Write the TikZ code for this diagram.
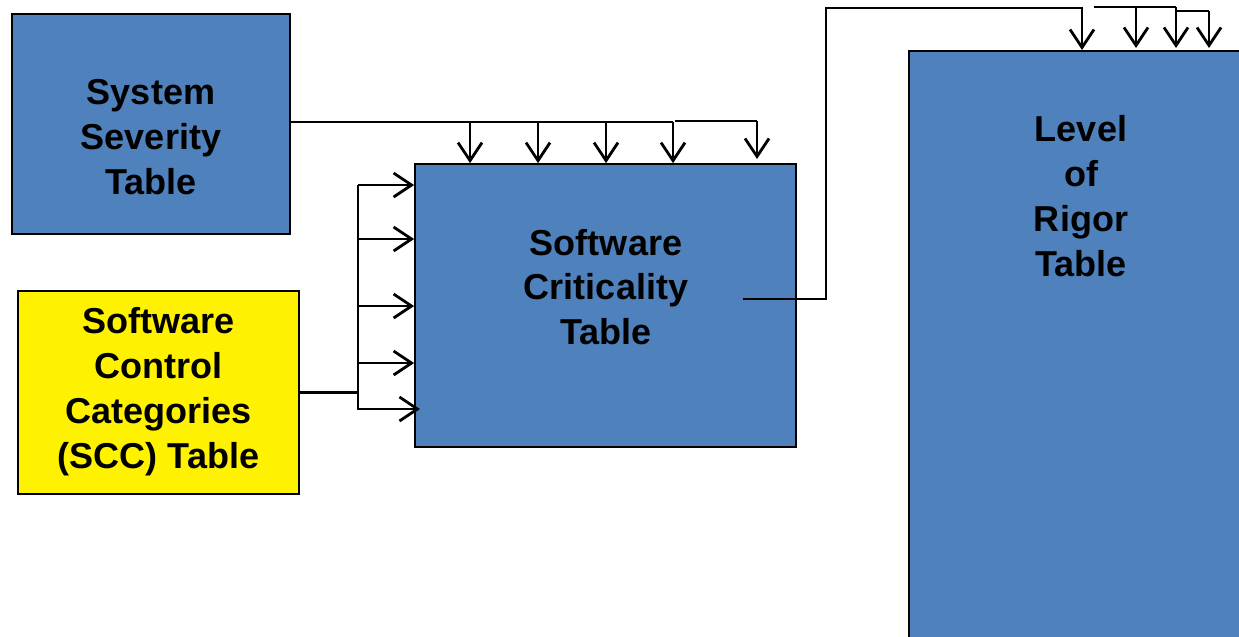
\documentclass[tikz,border=0pt]{standalone}
\usepackage{fontspec}
\setmainfont{Liberation Sans}
\usetikzlibrary{arrows.meta}
\definecolor{tableblue}{RGB}{79,129,189}
\tikzstyle{link}=[line width=1.6pt,draw=black]
\tikzstyle{arr}=[link,-{Straight Barb[length=0.36cm,width=0.48cm,line width=1.6pt]}]

\begin{document}
\begin{tikzpicture}
\tikzstyle{table}=[shape=rectangle,draw=black,line width=1pt,fill=tableblue,
    font=\fontsize{20.5}{25.5}\selectfont\bfseries,align=center]
\tikzstyle{title}=[font=\fontsize{20.5}{25.5}\selectfont\bfseries,align=center]
\useasboundingbox (0,0) rectangle (24.78,-12.72);
% tables
\node[table,minimum width=5.56cm,minimum height=4.40cm] (sst) at (3.02,-2.48) {};
\node[title] (ssttext) at (3.02,-2.74) {System\\Severity\\Table};
\node[table,fill=yellow,minimum width=5.62cm,minimum height=4.06cm] (scc) at (3.17,-7.85) {};
\node[title] (scctext) at (3.17,-7.83) {Software\\Control\\Categories\\(SCC) Table};
\node[table,minimum width=7.62cm,minimum height=5.66cm] (sct) at (12.11,-6.11) {};
\node[title] (scttext) at (12.12,-5.74) {Software\\Criticality\\Table};
\node[table,anchor=north west,minimum width=7.2cm,minimum height=12.2cm] (lor) at (18.16,-1.00) {};
\node[title] (lortext) at (21.62,-3.92) {Level\\of\\Rigor\\Table};
% severity into criticality
\coordinate (sstout) at (5.80,-2.44);
\draw[link] (sstout) -- (13.46,-2.44);
\foreach \x in {9.40,10.76,12.12,13.46}
    \draw[arr] (\x,-2.44) -- (\x,0 |- sct.north);
\draw[link] (13.50,-2.42) -- (15.14,-2.42);
\draw[arr] (15.14,-2.42) -- (15.14,-3.18);
% control categories into criticality
\coordinate (sccbus) at (7.16,-7.85);
\draw[link] (scc.east) -- (sccbus);
\draw[link] (7.16,-3.70) -- (7.16,-8.20);
\foreach \y in {-3.70,-4.78,-6.12,-7.26}
    \draw[arr] (7.16,\y) -- (sct.west |- 0,\y);
\draw[arr] (7.16,-8.18) -- (8.40,-8.18);
% criticality into rigor
\coordinate (sctout) at (14.86,-5.98);
\draw[arr] (sctout) -- (16.52,-5.98) -- (16.52,-0.16) -- (21.64,-0.16) -- (21.64,0 |- lor.north);
\draw[link] (21.88,-0.14) -- (23.52,-0.14);
\draw[link] (23.52,-0.22) -- (24.18,-0.22);
\foreach \x/\y in {22.72/-0.14,23.52/-0.14,24.18/-0.22}
    \draw[arr] (\x,\y) -- (\x,-0.96);
\end{tikzpicture}
\end{document}
